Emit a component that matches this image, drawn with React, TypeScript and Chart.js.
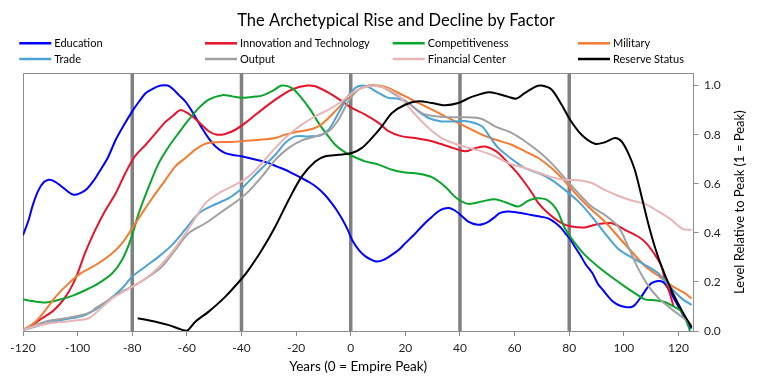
import React, { useEffect, useRef } from "react";
import { Chart, registerables } from "chart.js";

Chart.register(...registerables);

const TITLE = "The Archetypical Rise and Decline by Factor";
const X_TITLE = "Years (0 = Empire Peak)";
const Y_TITLE = "Level Relative to Peak (1 = Peak)";
const FONT = "Lato, 'Noto Sans', sans-serif";

const phaseLines = [-80, -40, 0, 40, 80];

const seriesNames = [
  "Education",
  "Innovation and Technology",
  "Competitiveness",
  "Military",
  "Trade",
  "Output",
  "Financial Center",
  "Reserve Status",
];

const seriesColors = [
  "#0000FF",
  "#E8132B",
  "#0BA52E",
  "#F47B31",
  "#4CA3D4",
  "#A0A0A0",
  "#E8B5B5",
  "#000000",
];

type Pt = [number, number];

const education: Pt[] = [
  [-120, 0.39], [-118, 0.45], [-116.5, 0.51], [-114.5, 0.57], [-112.5, 0.605], [-110.5, 0.616],
  [-108.5, 0.61], [-106, 0.59], [-104, 0.572], [-101.5, 0.555], [-99, 0.562], [-96.5, 0.58],
  [-94, 0.615], [-92, 0.65], [-89, 0.705], [-86, 0.78], [-83, 0.84], [-80, 0.895], [-77.5, 0.935],
  [-75, 0.97], [-72, 0.99], [-69.5, 1.0], [-67, 1.0], [-65, 0.985], [-63, 0.962], [-60.5, 0.935],
  [-58.5, 0.902], [-56.5, 0.865], [-54.5, 0.827], [-52, 0.785], [-49.5, 0.752], [-46.5, 0.728],
  [-43.5, 0.718], [-40, 0.712], [-37.3, 0.705], [-33.5, 0.695], [-30, 0.684], [-27, 0.67],
  [-24, 0.657], [-21, 0.64], [-18, 0.623], [-15, 0.605], [-12, 0.582], [-9.5, 0.555], [-7, 0.521],
  [-5, 0.49], [-3, 0.453], [-1, 0.41], [0.5, 0.371], [3, 0.33], [5.5, 0.303], [8, 0.288],
  [9.5, 0.283], [12, 0.29], [15, 0.31], [17.5, 0.33], [20, 0.358], [23, 0.39], [26, 0.426],
  [29, 0.458], [32, 0.487], [34, 0.498], [36, 0.501], [38, 0.492], [40, 0.475], [43, 0.446],
  [46.5, 0.433], [48.5, 0.436], [50.5, 0.446], [52.5, 0.462], [54.5, 0.48], [57.5, 0.487],
  [61, 0.483], [66, 0.473], [71, 0.463], [73, 0.455], [75, 0.44], [77, 0.42], [78.5, 0.399],
  [80.5, 0.372], [82, 0.344], [84, 0.31], [86, 0.272], [88.5, 0.235], [90.6, 0.19], [92.5, 0.165],
  [94.3, 0.14], [96, 0.12], [98, 0.106], [100, 0.099], [102.5, 0.097], [104, 0.106], [106.4, 0.14],
  [108.5, 0.175], [110.1, 0.195], [112.5, 0.204], [114.4, 0.199], [116.2, 0.174], [118.6, 0.127],
  [121, 0.079], [123.5, 0.03], [124.8, 0.01],
];

const innovation: Pt[] = [
  [-120, 0.004], [-116.6, 0.024], [-113, 0.052], [-109.3, 0.079], [-106.5, 0.11], [-104.4, 0.14],
  [-102, 0.185], [-100, 0.235], [-97, 0.325], [-93.4, 0.415], [-90.4, 0.48], [-86, 0.562],
  [-82.5, 0.644], [-79, 0.712], [-75, 0.76], [-71.5, 0.805], [-68, 0.85], [-65, 0.878],
  [-62.5, 0.9], [-60, 0.89], [-57, 0.865], [-55, 0.845], [-52, 0.814], [-49, 0.8], [-46, 0.803],
  [-42.2, 0.82], [-38.6, 0.848], [-35, 0.88], [-32.5, 0.902], [-27.6, 0.943], [-21.5, 0.984],
  [-16, 1.0], [-13, 0.997], [-8, 0.97], [-3.2, 0.936], [0.4, 0.909], [5.3, 0.882], [10.2, 0.848],
  [13.8, 0.814], [18.7, 0.793], [23.6, 0.786], [29.7, 0.773], [35.8, 0.752], [41.9, 0.732],
  [45.5, 0.745], [49.2, 0.752], [52, 0.74], [54.1, 0.725], [57.7, 0.684], [60.5, 0.65],
  [63.8, 0.603], [66.5, 0.56], [68.7, 0.521], [72.3, 0.48], [77.2, 0.44], [80.9, 0.426],
  [85.7, 0.422], [89.4, 0.433], [94.3, 0.44], [96.7, 0.435], [100.4, 0.412], [105.2, 0.385],
  [108, 0.36], [110.1, 0.331], [112, 0.3], [113.8, 0.263], [115, 0.21], [116.8, 0.154], [118.2, 0.1],
];

const competitiveness: Pt[] = [
  [-120, 0.129], [-116.6, 0.122], [-111.7, 0.116], [-106.8, 0.127], [-102, 0.143], [-97, 0.167],
  [-92.2, 0.195], [-87.3, 0.235], [-83.7, 0.29], [-80.6, 0.371], [-77.6, 0.48], [-73.9, 0.589],
  [-70.3, 0.684], [-66.6, 0.752], [-63, 0.807], [-59.3, 0.861], [-55.6, 0.909], [-52, 0.943],
  [-47.1, 0.961], [-43.4, 0.956], [-39.1, 0.95], [-35, 0.955], [-32.5, 0.959], [-28.8, 0.977],
  [-25.2, 1.0], [-21.5, 0.99], [-18.5, 0.956], [-14.8, 0.902], [-11.8, 0.848], [-8.7, 0.8],
  [-5.7, 0.759], [-2.6, 0.732], [0.4, 0.714], [5.3, 0.691], [10.2, 0.678], [15.1, 0.657],
  [19.9, 0.646], [24.8, 0.641], [29.7, 0.627], [34.5, 0.589], [38.8, 0.541], [43.1, 0.518],
  [48, 0.528], [52.8, 0.537], [56, 0.527], [58, 0.519], [61.4, 0.507], [65, 0.531], [68.1, 0.541],
  [71.7, 0.535], [75.4, 0.494], [78.4, 0.419], [82.1, 0.358], [85.7, 0.31], [90.6, 0.262],
  [95.5, 0.22], [100.4, 0.181], [104, 0.154], [107.7, 0.129], [111.3, 0.125], [115, 0.118],
  [118.6, 0.097], [120.5, 0.086], [122.3, 0.059], [123.5, 0.024], [124.2, 0.0],
];

const military: Pt[] = [
  [-120, 0.004], [-115.4, 0.038], [-111.7, 0.086], [-108, 0.14], [-103.2, 0.195], [-98.9, 0.235],
  [-93.4, 0.269], [-87.3, 0.317], [-83.7, 0.358], [-80, 0.419], [-76.4, 0.48], [-72.7, 0.541],
  [-67.8, 0.616], [-64.2, 0.671], [-60.5, 0.705], [-56.9, 0.739], [-53.2, 0.763], [-49.5, 0.769],
  [-43.4, 0.77], [-37.3, 0.776], [-32.5, 0.78], [-27.6, 0.786], [-24, 0.8], [-20.3, 0.81],
  [-15.4, 0.82], [-11.8, 0.834], [-8.1, 0.868], [-4.5, 0.909], [-0.8, 0.95], [2.9, 0.984],
  [6.5, 1.0], [10.2, 1.0], [13.8, 0.99], [18.7, 0.963], [23.6, 0.936], [28.5, 0.909],
  [33.3, 0.882], [38.2, 0.854], [43.1, 0.827], [48, 0.8], [52.8, 0.78], [58.9, 0.759],
  [63.8, 0.732], [68.7, 0.705], [73.5, 0.664], [78.4, 0.61], [83.3, 0.548], [88.2, 0.494],
  [93, 0.446], [97.9, 0.385], [102.8, 0.324], [107.7, 0.265], [112.6, 0.225], [117.4, 0.185],
  [120.5, 0.165], [122.3, 0.154], [124.8, 0.133],
];

const trade: Pt[] = [
  [-120, 0.004], [-115.4, 0.018], [-110.5, 0.034], [-104.4, 0.048], [-98.3, 0.061], [-93.4, 0.088],
  [-88.5, 0.127], [-83.7, 0.174], [-80, 0.222], [-75.1, 0.263], [-70.3, 0.303], [-65.4, 0.351],
  [-60.5, 0.415], [-55.6, 0.48], [-50.8, 0.51], [-44.7, 0.541], [-39.8, 0.582], [-36, 0.625],
  [-32.5, 0.664], [-27.6, 0.718], [-24, 0.766], [-20.3, 0.793], [-15.4, 0.793], [-11.2, 0.796],
  [-8.1, 0.82], [-4.5, 0.888], [-1.4, 0.95], [1.6, 0.99], [4.1, 1.0], [6.5, 0.994], [10.2, 0.97],
  [13.8, 0.95], [17.5, 0.946], [21.1, 0.929], [24.8, 0.895], [28.5, 0.868], [33.3, 0.854],
  [38.2, 0.854], [43.1, 0.854], [48, 0.834], [51, 0.79], [54, 0.746], [58.9, 0.701], [63.8, 0.664],
  [68.7, 0.643], [73.5, 0.616], [78.4, 0.575], [83.3, 0.528], [88.2, 0.467], [93, 0.399],
  [97.9, 0.335], [102.8, 0.3], [107.7, 0.27], [112.6, 0.235], [117.4, 0.174], [121.1, 0.133],
  [124.8, 0.106],
];

const output: Pt[] = [
  [-120, 0.004], [-115.4, 0.024], [-110.5, 0.042], [-104.4, 0.052], [-98.3, 0.065], [-95, 0.079],
  [-93.4, 0.093], [-88.5, 0.127], [-83.7, 0.161], [-78.8, 0.188], [-73.9, 0.222], [-69.1, 0.263],
  [-64.2, 0.331], [-59.3, 0.399], [-53.2, 0.439], [-47.1, 0.487], [-41, 0.535], [-37.4, 0.569],
  [-32.5, 0.63], [-27.6, 0.698], [-22.7, 0.746], [-17.9, 0.777], [-13, 0.793], [-8.1, 0.814],
  [-4.5, 0.861], [-0.8, 0.936], [2.9, 0.984], [7.7, 1.0], [11.4, 0.994], [16.3, 0.963],
  [21.1, 0.929], [26, 0.888], [30.9, 0.875], [35.8, 0.871], [41.9, 0.871], [48, 0.864],
  [52.8, 0.834], [58.9, 0.807], [63.8, 0.773], [68.7, 0.732], [73.5, 0.684], [78.4, 0.623],
  [83.3, 0.562], [88.2, 0.507], [93, 0.473], [97.9, 0.426], [101.6, 0.344], [105.2, 0.255],
  [108.9, 0.185], [112.6, 0.135], [117.4, 0.09], [121.1, 0.059], [124.8, 0.025],
];

const financialCenter: Pt[] = [
  [-120, 0.004], [-115.4, 0.02], [-110.5, 0.031], [-104.4, 0.038], [-99.5, 0.045], [-95.9, 0.052],
  [-92.2, 0.086], [-87.3, 0.133], [-82.5, 0.165], [-77.6, 0.195], [-72.7, 0.235], [-67.8, 0.29],
  [-63, 0.358], [-58.1, 0.439], [-53.2, 0.521], [-48.3, 0.562], [-42.2, 0.596], [-37.3, 0.63],
  [-32.5, 0.684], [-27.6, 0.746], [-22.7, 0.8], [-17.9, 0.841], [-13, 0.875], [-8.1, 0.902],
  [-3.2, 0.936], [1.6, 0.977], [6.5, 0.997], [11.4, 0.994], [16.3, 0.97], [19.9, 0.929],
  [23.6, 0.882], [28.5, 0.827], [33.3, 0.786], [38.2, 0.763], [43.1, 0.746], [48, 0.732],
  [52.8, 0.712], [57.7, 0.684], [63.8, 0.664], [68.7, 0.646], [73.5, 0.627], [78.4, 0.616],
  [83.3, 0.614], [88.2, 0.603], [93, 0.575], [97.9, 0.551], [102.8, 0.532], [107.7, 0.518],
  [112.6, 0.487], [117.4, 0.453], [121.7, 0.415], [124.8, 0.412],
];

const reserveStatus: Pt[] = [
  [-78, 0.052], [-71.5, 0.038], [-66.6, 0.024], [-62.3, 0.007], [-59.9, 0.001], [-56.9, 0.038],
  [-52, 0.079], [-45.9, 0.14], [-39.8, 0.215], [-37.4, 0.249], [-32.5, 0.331], [-27.6, 0.426],
  [-22.7, 0.535], [-17.9, 0.63], [-13, 0.691], [-9.3, 0.712], [-4.5, 0.718], [0.4, 0.725],
  [4.1, 0.746], [7.7, 0.786], [11.4, 0.834], [15.1, 0.888], [19.9, 0.922], [24.8, 0.936],
  [29.7, 0.929], [34.5, 0.92], [39.4, 0.929], [44.3, 0.954], [50.4, 0.973], [54, 0.966],
  [57.7, 0.954], [60.7, 0.947], [63.8, 0.97], [67.5, 0.995], [69.9, 1.0], [73.5, 0.984],
  [77.2, 0.922], [80.3, 0.861], [84.5, 0.8], [89.4, 0.763], [93, 0.769], [96.7, 0.786],
  [99.1, 0.773], [101.6, 0.725], [104, 0.657], [106.5, 0.548], [108.9, 0.439], [111.3, 0.344],
  [113.8, 0.263], [117.4, 0.167], [121.1, 0.086], [124.8, 0.015],
];

const seriesData: Pt[][] = [
  education,
  innovation,
  competitiveness,
  military,
  trade,
  output,
  financialCenter,
  reserveStatus,
];

const X_MIN = -120;
const X_MAX = 125.5;
const Y_MIN = 0;
const Y_MAX = 1.05;

const AXIS_GRAY = "#8c8c8c";
const TEXT_DARK = "#1f1f1f";

const frameAndLegend = {
  id: "frameAndLegend",
  beforeDatasetsDraw(chart: any) {
    const { ctx, chartArea } = chart;
    const { left, top, right, bottom } = chartArea;
    ctx.save();
    ctx.strokeStyle = AXIS_GRAY;
    ctx.lineWidth = 1;
    ctx.beginPath();
    ctx.moveTo(Math.round(left) + 0.5, Math.round(bottom));
    ctx.lineTo(Math.round(left) + 0.5, Math.round(top) + 0.5);
    ctx.lineTo(Math.round(right), Math.round(top) + 0.5);
    ctx.stroke();
    ctx.restore();
  },
  afterDraw(chart: any) {
    const { ctx, chartArea } = chart;
    ctx.save();
    // legend, 4 columns x 2 rows
    const colX = [19.3, 205, 392.7, 578];
    const rowY = [43.3, 59];
    ctx.font = `11px ${FONT}`;
    ctx.textBaseline = "middle";
    ctx.textAlign = "left";
    chart.data.datasets.forEach((ds: any) => {
      if (ds.isPhase) return;
      const idx = ds.seriesIndex as number;
      const x = colX[idx % 4];
      const y = rowY[Math.floor(idx / 4)];
      ctx.strokeStyle = ds.borderColor;
      ctx.lineWidth = 2.5;
      ctx.beginPath();
      ctx.moveTo(x, y);
      ctx.lineTo(x + 32, y);
      ctx.stroke();
      ctx.fillStyle = "#000";
      ctx.fillText(ds.label, x + 35, y);
    });
    // right-hand y title, reading bottom to top
    ctx.translate(740, (chartArea.top + chartArea.bottom) / 2);
    ctx.rotate(-Math.PI / 2);
    ctx.textAlign = "center";
    ctx.textBaseline = "middle";
    ctx.font = `13px ${FONT}`;
    ctx.fillStyle = "#000";
    ctx.fillText(Y_TITLE, 0, 0);
    ctx.restore();
  },
};

export default function App() {
  const canvasRef = useRef<HTMLCanvasElement | null>(null);

  useEffect(() => {
    document.body.style.margin = "0";
    const canvas = canvasRef.current;
    if (!canvas) return;

    const phaseDatasets = phaseLines.map((x) => ({
      label: `phase ${x}`,
      isPhase: true,
      data: [
        { x, y: Y_MIN },
        { x, y: Y_MAX },
      ],
      borderColor: "#808080",
      borderWidth: 3.5,
      pointRadius: 0,
      order: 100,
    }));

    const seriesDatasets = seriesData.map((pts, i) => ({
      label: seriesNames[i],
      seriesIndex: i,
      isPhase: false,
      data: pts.map(([x, y]) => ({ x, y })),
      borderColor: seriesColors[i],
      backgroundColor: seriesColors[i],
      borderWidth: 2,
      pointRadius: 0,
      tension: 0.3,
      order: 20 - i,
    }));

    const chart = new Chart(canvas, {
      type: "line",
      data: { datasets: [...seriesDatasets, ...phaseDatasets] as any },
      options: {
        animation: false,
        responsive: false,
        devicePixelRatio: 1,
        layout: { padding: { left: 23, right: 0, top: 0, bottom: 0 } },
        plugins: {
          legend: { display: false },
          tooltip: { enabled: false },
          title: {
            display: true,
            text: TITLE,
            color: "#000",
            font: { family: FONT, size: 16.5, weight: "normal" },
            padding: { top: 11, bottom: 42.5 },
          },
        },
        scales: {
          x: {
            type: "linear",
            min: X_MIN,
            max: X_MAX,
            afterFit: (s: any) => {
              s.height = 55;
            },
            ticks: {
              stepSize: 20,
              includeBounds: false,
              autoSkip: false,
              maxRotation: 0,
              color: TEXT_DARK,
              font: { family: FONT, size: 12 },
              padding: 5,
            },
            grid: { drawOnChartArea: false, drawTicks: true, tickLength: 5, color: AXIS_GRAY },
            border: { display: true, color: AXIS_GRAY },
            title: {
              display: true,
              text: X_TITLE,
              color: "#000",
              font: { family: FONT, size: 13.5 },
              padding: { top: 0, bottom: 11 },
            },
          },
          y: {
            type: "linear",
            position: "right",
            min: Y_MIN,
            max: Y_MAX,
            afterFit: (s: any) => {
              s.width = 75.5;
            },
            ticks: {
              stepSize: 0.2,
              includeBounds: false,
              color: TEXT_DARK,
              font: { family: FONT, size: 12 },
              padding: 5.5,
              callback: (v: any) => Number(v).toFixed(1),
            },
            grid: { drawOnChartArea: false, drawTicks: true, tickLength: 5, color: AXIS_GRAY },
            border: { display: true, color: AXIS_GRAY },
          },
        },
      } as any,
      plugins: [frameAndLegend],
    });

    return () => chart.destroy();
  }, []);

  return (
    <div style={{ width: 769, height: 386, position: "relative" }}>
      <canvas ref={canvasRef} width={769} height={386} style={{ display: "block" }} />
    </div>
  );
}
